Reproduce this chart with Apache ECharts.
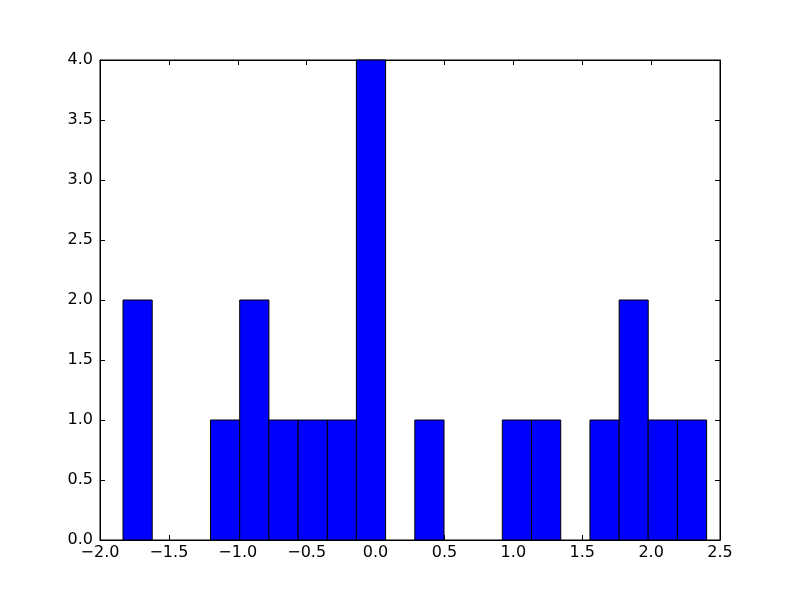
<!DOCTYPE html>
<html>
<head>
<meta charset="utf-8">
<script src="https://cdn.jsdelivr.net/npm/echarts@6/dist/echarts.min.js"></script>
<style>html,body{margin:0;padding:0;background:#fff;}#c{width:800px;height:600px;}</style>
</head>
<body>
<div id="c"></div>
<script>
// Histogram bin edges (21 edges, 20 bins)
var binEdges = [-1.833, -1.621, -1.409, -1.198, -0.986, -0.774, -0.562, -0.350, -0.139, 0.073, 0.285,
                0.497, 0.709, 0.920, 1.132, 1.344, 1.556, 1.768, 1.979, 2.191, 2.403];
// Counts per bin
var counts = [2, 0, 0, 1, 2, 1, 1, 1, 4, 0, 1, 0, 0, 1, 1, 0, 1, 2, 1, 1];
// Tick ranges
var xTicks = [-2.0, -1.5, -1.0, -0.5, 0.0, 0.5, 1.0, 1.5, 2.0, 2.5];
var yTicks = [0.0, 0.5, 1.0, 1.5, 2.0, 2.5, 3.0, 3.5, 4.0];

var barData = counts.map(function (c, i) { return [binEdges[i], binEdges[i + 1], c]; });

function fmt(v) { return v.toFixed(1).replace('-', '\u2212'); }

var font = 'DejaVu Sans';
var chart = echarts.init(document.getElementById('c'), null, { renderer: 'canvas' });
var commonTick = { show: true, inside: true, length: 5, lineStyle: { color: '#000', width: 1 } };
chart.setOption({
  animation: false,
  backgroundColor: '#fff',
  grid: { left: 100, right: 80, top: 60, bottom: 60, show: true, borderColor: '#000', borderWidth: 1, backgroundColor: 'transparent' },
  xAxis: [{
    type: 'value', min: xTicks[0], max: xTicks[xTicks.length - 1], interval: 0.5, position: 'bottom',
    axisLine: { show: true, onZero: false, lineStyle: { color: '#000', width: 1 } },
    axisTick: commonTick,
    splitLine: { show: false },
    axisLabel: { formatter: fmt, color: '#000', fontFamily: font, fontSize: 16, margin: 5, showMinLabel: true, showMaxLabel: true }
  }, {
    type: 'value', min: xTicks[0], max: xTicks[xTicks.length - 1], interval: 0.5, position: 'top',
    axisLine: { show: true, onZero: false, lineStyle: { color: '#000', width: 1 } },
    axisTick: commonTick, splitLine: { show: false }, axisLabel: { show: false }
  }],
  yAxis: [{
    type: 'value', min: yTicks[0], max: yTicks[yTicks.length - 1], interval: 0.5, position: 'left',
    axisLine: { show: true, onZero: false, lineStyle: { color: '#000', width: 1 } },
    axisTick: commonTick, splitLine: { show: false },
    axisLabel: { formatter: fmt, color: '#000', fontFamily: font, fontSize: 16, margin: 7, showMinLabel: true, showMaxLabel: true }
  }, {
    type: 'value', min: yTicks[0], max: yTicks[yTicks.length - 1], interval: 0.5, position: 'right',
    axisLine: { show: true, onZero: false, lineStyle: { color: '#000', width: 1 } },
    axisTick: commonTick, splitLine: { show: false }, axisLabel: { show: false }
  }],
  series: [{
    type: 'custom',
    xAxisIndex: 0, yAxisIndex: 0,
    data: barData,
    renderItem: function (params, api) {
      var h = api.value(2);
      if (!h) return null;
      var p0 = api.coord([api.value(0), h]);
      var p1 = api.coord([api.value(1), 0]);
      return {
        type: 'rect',
        shape: { x: p0[0], y: p0[1], width: p1[0] - p0[0], height: p1[1] - p0[1] },
        style: { fill: '#0000ff', stroke: '#000', lineWidth: 1 }
      };
    },
    z: 1
  }]
});
</script>
</body>
</html>
